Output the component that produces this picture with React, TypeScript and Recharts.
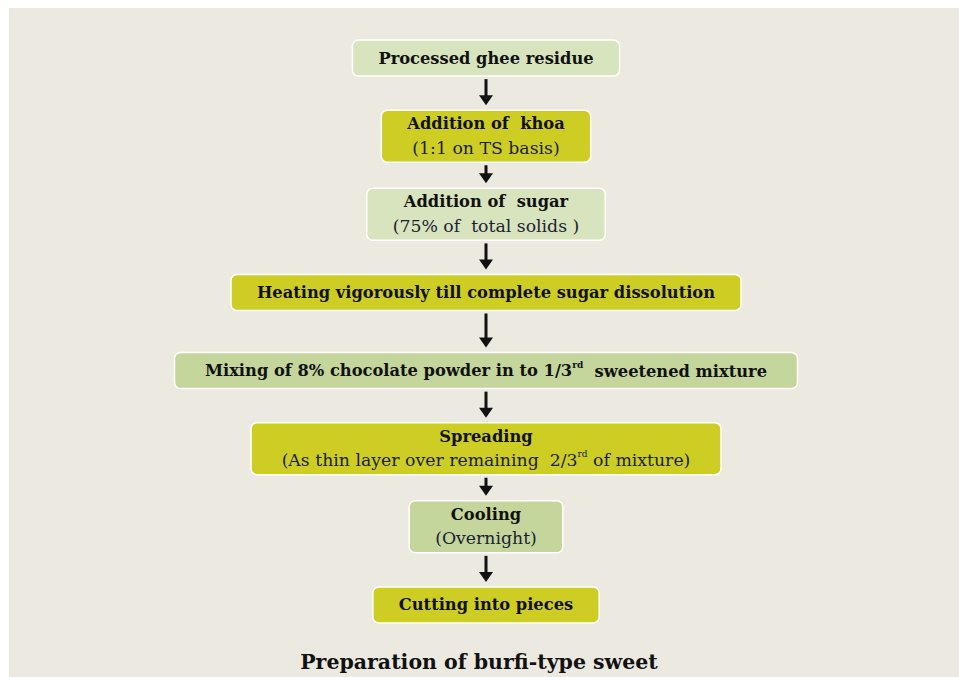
import { Bar, BarChart, XAxis, YAxis } from 'recharts';

// flow steps, top to bottom
const STEP_TITLES = [
  'Processed ghee residue',
  'Addition of  khoa',
  'Addition of  sugar',
  'Heating vigorously till complete sugar dissolution',
  'Mixing of 8% chocolate powder in to 1/3^rd  sweetened mixture',
  'Spreading',
  'Cooling',
  'Cutting into pieces',
];
const STEP_NOTES = [
  '',
  '(1:1 on TS basis)',
  '(75% of  total solids )',
  '',
  '',
  '(As thin layer over remaining  2/3^rd of mixture)',
  '(Overnight)',
  '',
];
const CHART_TITLE = 'Preparation of burfi-type sweet';

const FILLS = ['#d8e4bd', '#cdcd24', '#d8e4bd', '#cdcd24', '#c4d69c', '#cdcd24', '#c4d69c', '#cdcd24'];

const FAMILY = 'DejaVu Serif';
const TITLE_SIZE = 16.3;
const NOTE_SIZE = 17.3;
const PAD = 26;

const data = STEP_TITLES.map((title, i) => ({ id: `s${i}`, title, note: STEP_NOTES[i] }));

let ctx: CanvasRenderingContext2D | null = null;
const measure = (text: string, font: string) => {
  if (!ctx) ctx = document.createElement('canvas').getContext('2d');
  if (!ctx) return text.length * 9;
  ctx.font = font;
  return ctx.measureText(text.replace(/\^\w+/, 'rd')).width;
};

const boxHeight = (i: number) => (STEP_NOTES[i] ? 52 : 36);

// "1/3^rd" -> 1/3 with superscript rd
const renderText = (text: string) => {
  const m = text.match(/^(.*?)\^(\w+)(.*)$/);
  if (!m) return text;
  return (
    <>
      {m[1]}
      <tspan fontSize="9" dy="-6">{m[2]}</tspan>
      <tspan dy="6">{m[3]}</tspan>
    </>
  );
};

const StepBox = (props: any) => {
  const { x, y, width, height, index, payload } = props;
  const cx = x + width / 2;
  const cy = y + height / 2;
  const h = boxHeight(index);
  const textW = Math.max(
    measure(payload.title, `bold ${TITLE_SIZE}px "${FAMILY}"`),
    payload.note ? measure(payload.note, `${NOTE_SIZE}px "${FAMILY}"`) : 0
  );
  const w = textW + PAD * 2;
  const top = cy - h / 2;

  let arrow = null;
  if (index > 0) {
    const prevBottom = cy - height + boxHeight(index - 1) / 2;
    const y0 = prevBottom + 3;
    const y1 = top - 5;
    arrow = (
      <g fill="#111">
        <rect x={cx - 1.5} y={y0} width={3} height={y1 - y0 - 9} />
        <polygon points={`${cx - 7},${y1 - 10} ${cx + 7},${y1 - 10} ${cx},${y1}`} />
      </g>
    );
  }

  const textStyle = { whiteSpace: 'pre' as const };
  return (
    <g>
      {arrow}
      <rect x={cx - w / 2} y={top} width={w} height={h} rx={6} fill={FILLS[index]} stroke="#fff" strokeWidth={1.5} />
      {payload.note ? (
        <>
          <text x={cx} y={cy - 12.5} textAnchor="middle" dominantBaseline="central" fontFamily={FAMILY} fontWeight="bold" fontSize={TITLE_SIZE} fill="#111" style={textStyle}>
            {renderText(payload.title)}
          </text>
          <text x={cx} y={cy + 11.5} textAnchor="middle" dominantBaseline="central" fontFamily={FAMILY} fontSize={NOTE_SIZE} fill="#1c2233" style={textStyle}>
            {renderText(payload.note)}
          </text>
        </>
      ) : (
        <text x={cx} y={cy} textAnchor="middle" dominantBaseline="central" fontFamily={FAMILY} fontWeight="bold" fontSize={TITLE_SIZE} fill="#111" style={textStyle}>
          {renderText(payload.title)}
        </text>
      )}
    </g>
  );
};

export default function App() {
  return (
    <div style={{ position: 'absolute', left: 9, top: 8, width: 950, height: 669, background: '#eceae0' }}>
      <BarChart
        width={950}
        height={669}
        data={data}
        layout="vertical"
        barCategoryGap={0}
        margin={{ top: 11, right: 0, bottom: 33, left: 4 }}
      >
        <XAxis type="number" domain={[0, 1]} hide />
        <YAxis type="category" dataKey="id" hide />
        <Bar dataKey={() => 1} shape={StepBox} isAnimationActive={false} />
      </BarChart>
      <svg width={950} height={669} style={{ position: 'absolute', left: 0, top: 0, pointerEvents: 'none' }}>
        <text x={470} y={661} textAnchor="middle" fontFamily={FAMILY} fontWeight="bold" fontSize={20.5} fill="#111">
          {CHART_TITLE}
        </text>
      </svg>
    </div>
  );
}
